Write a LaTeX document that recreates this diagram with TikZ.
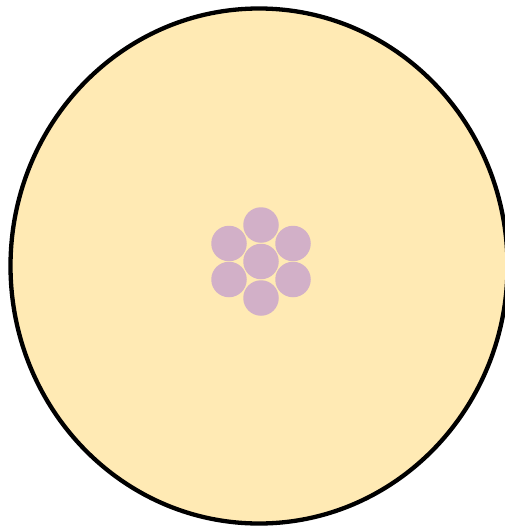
\documentclass[tikz,border=0pt]{standalone}
\definecolor{bgyellow}{RGB}{255,234,180}
\definecolor{dotpurple}{RGB}{210,176,200}
\begin{document}
\begin{tikzpicture}[x=1pt,y=-1pt,
  outerring/.style={draw=black,line width=4.3pt,fill=bgyellow},
  strand/.style={circle,fill=dotpurple,minimum size=35.5pt,inner sep=0pt,draw=none}]
\useasboundingbox (0,0) rectangle (505,527);
\draw[outerring] (259,266) ellipse [x radius=248.5, y radius=257.5];
\node[strand] (c) at (261,261.5) {};
\node[strand] (t) at (261,225) {};
\node[strand] (b) at (261,298) {};
\node[strand] (lt) at (229,243.5) {};
\node[strand] (lb) at (229,279.5) {};
\node[strand] (rt) at (293,243.5) {};
\node[strand] (rb) at (293,279.5) {};
\end{tikzpicture}
\end{document}
